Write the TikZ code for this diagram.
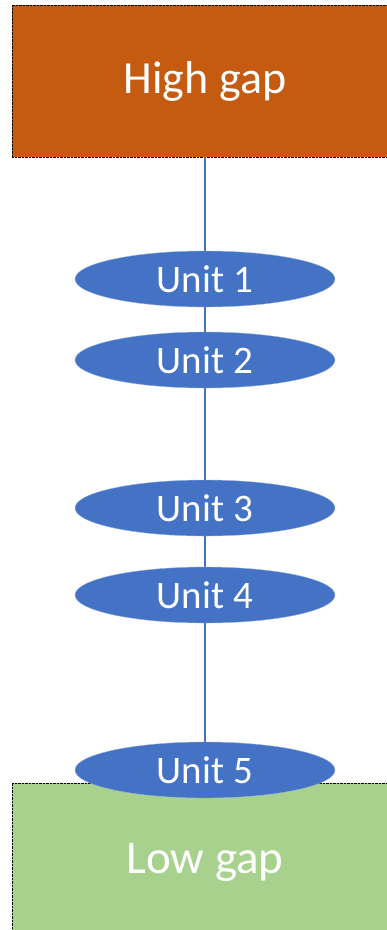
\documentclass[tikz,border=0pt]{standalone}
\usepackage{fontspec}
\setmainfont{Carlito}
\usepackage{tikz}
\usetikzlibrary{shapes.geometric,backgrounds}

\definecolor{unitblue}{HTML}{4472C4}
\definecolor{highorange}{HTML}{C55A11}
\definecolor{lowgreen}{HTML}{A9D18E}

\begin{document}
\begin{tikzpicture}[x=1pt,y=-1pt,
                    gap box/.style={rectangle,draw=black,densely dotted,thin,inner sep=0pt,
                                    minimum width=386pt,minimum height=152pt,
                                    text=white,font=\fontsize{46}{50}\selectfont},
                    unit/.style={ellipse,fill=unitblue,draw=unitblue!55!white,thin,inner sep=0pt,
                                 minimum width=260pt,minimum height=56pt,
                                 text=white,font=\fontsize{39}{42}\selectfont}]
  \useasboundingbox (0,0) rectangle (386,930);
  \clip (0,0) rectangle (386,930);

  % the units along the line
  \node[unit] (u1) at (205,279) {Unit 1};
  \node[unit] (u2) at (205,360) {Unit 2};
  \node[unit] (u3) at (205,508) {Unit 3};
  \node[unit] (u4) at (205,595) {Unit 4};
  \node[unit] (u5) at (205,770) {Unit 5};

  \begin{scope}[on background layer]
    \node[gap box,fill=highorange] (high) at (205,81) {High gap};
    \node[gap box,fill=lowgreen,minimum height=158pt,
          font=\fontsize{47}{50}\selectfont] (low) at (205,862) {Low gap};
    \draw[unitblue,line width=2.5pt] (high.south) -- (low.north);
  \end{scope}
\end{tikzpicture}
\end{document}
